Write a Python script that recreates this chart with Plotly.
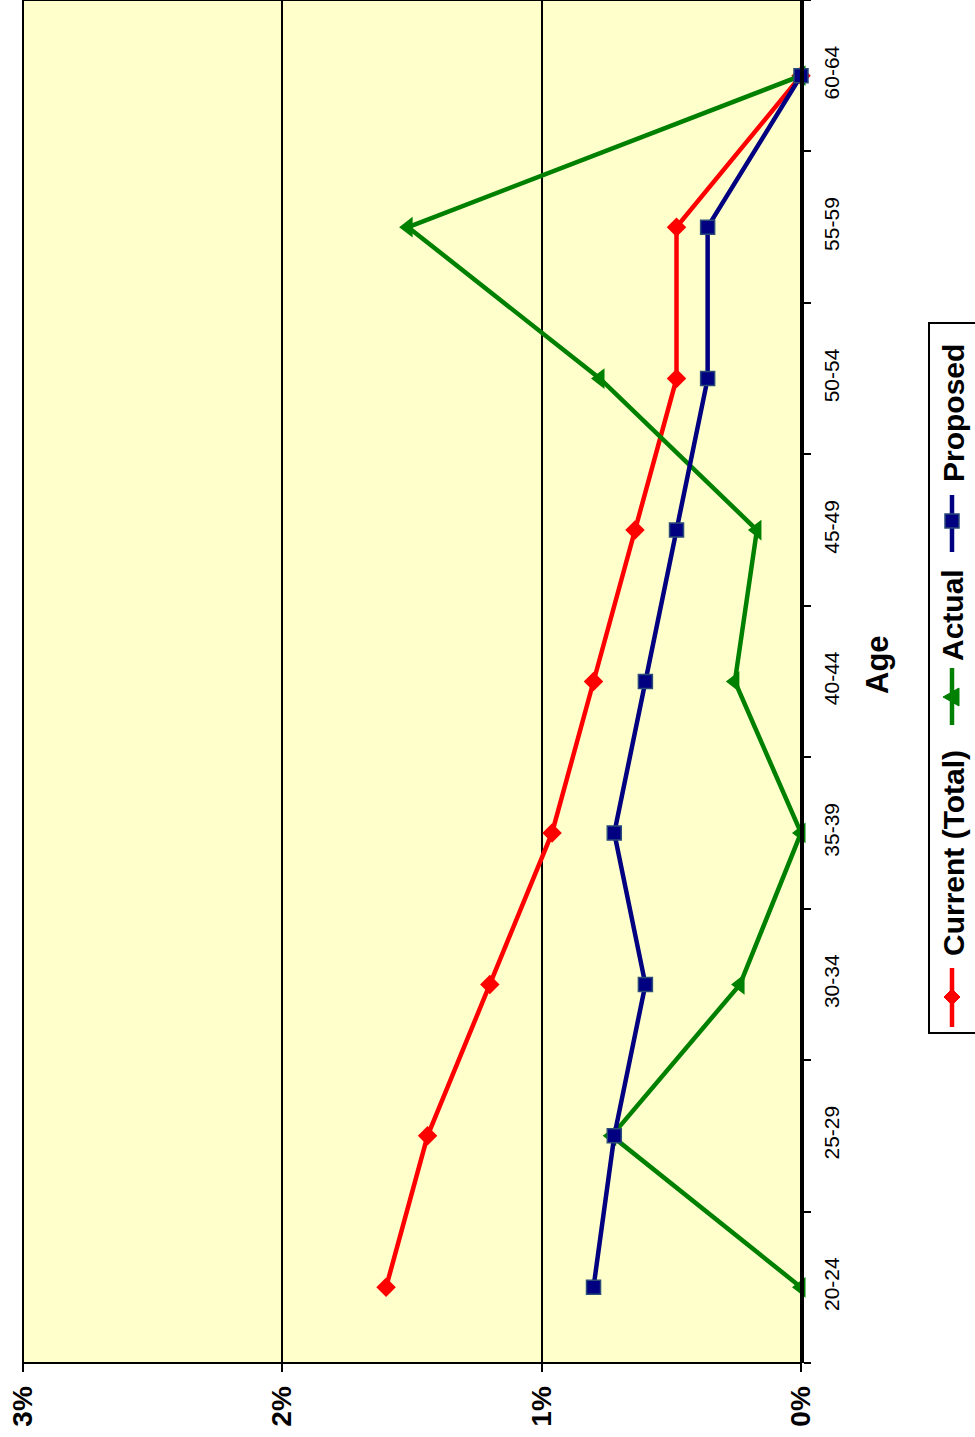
import plotly.graph_objects as go

# Age bands and rates (%) for each series
ages = ["20-24", "25-29", "30-34", "35-39", "40-44", "45-49", "50-54", "55-59", "60-64"]
current_total = [1.60, 1.44, 1.20, 0.96, 0.80, 0.64, 0.48, 0.48, 0.00]
actual = [0.00, 0.73, 0.235, 0.00, 0.255, 0.17, 0.775, 1.515, 0.00]
proposed = [0.80, 0.72, 0.60, 0.72, 0.60, 0.48, 0.36, 0.36, 0.00]
value_ticks = [0, 1, 2, 3]
value_labels = ["0%", "1%", "2%", "3%"]

W, H = 975, 1437
ML, MR, MT, MB = 23, 174, 0, 74
PW, PH = W - ML - MR, H - MT - MB
FONT = "Liberation Sans, Arial, sans-serif"


def px(x):
    return (x - ML) / PW


def py(y):
    return (H - MB - y) / PH


RED, GREEN, NAVY = "#FF0000", "#008000", "#000080"

fig = go.Figure()
fig.add_trace(go.Scatter(
    x=current_total, y=ages, mode="lines+markers", name="Current (Total)",
    line=dict(color=RED, width=4.5),
    marker=dict(symbol="diamond", size=15, color=RED),
    cliponaxis=False))
fig.add_trace(go.Scatter(
    x=actual, y=ages, mode="lines+markers", name="Actual",
    line=dict(color=GREEN, width=4.5),
    marker=dict(symbol="triangle-left", size=18, color=GREEN),
    cliponaxis=False))
fig.add_trace(go.Scatter(
    x=proposed, y=ages, mode="lines+markers", name="Proposed",
    line=dict(color=NAVY, width=4.5),
    marker=dict(symbol="square", size=14, color=NAVY,
                line=dict(color="#2A4A78", width=1.5)),
    cliponaxis=False))

shapes = []
# plot frame
shapes.append(dict(type="rect", xref="paper", yref="paper", x0=0, x1=1, y0=0, y1=1,
                   line=dict(color="black", width=2), layer="above"))
# legend box
shapes.append(dict(type="rect", xref="paper", yref="paper",
                   x0=px(929), x1=px(990), y0=py(1033), y1=py(323),
                   line=dict(color="black", width=2)))

legend_items = [
    ("Current (Total)", RED, (968, 1027), 997, 853, "diamond"),
    ("Actual", GREEN, (668, 725), 697, 615, "triangle"),
    ("Proposed", NAVY, (495, 552), 521, 413, "square"),
]
lx = 952
annotations = []
for label, color, (ya, yb), ym, yt, sym in legend_items:
    shapes.append(dict(type="line", xref="paper", yref="paper",
                       x0=px(lx), x1=px(lx), y0=py(ya), y1=py(yb),
                       line=dict(color=color, width=4.5)))
    if sym == "diamond":
        path = (f"M {px(lx)} {py(ym - 8)} L {px(lx + 8)} {py(ym)} "
                f"L {px(lx)} {py(ym + 8)} L {px(lx - 8)} {py(ym)} Z")
        shapes.append(dict(type="path", xref="paper", yref="paper", path=path,
                           fillcolor=color, line=dict(color=color, width=1)))
    elif sym == "triangle":
        path = (f"M {px(lx - 9)} {py(ym)} L {px(lx + 7)} {py(ym - 9)} "
                f"L {px(lx + 7)} {py(ym + 9)} Z")
        shapes.append(dict(type="path", xref="paper", yref="paper", path=path,
                           fillcolor=color, line=dict(color=color, width=1)))
    else:
        shapes.append(dict(type="rect", xref="paper", yref="paper",
                           x0=px(lx - 7), x1=px(lx + 7), y0=py(ym + 7), y1=py(ym - 7),
                           fillcolor=color, line=dict(color="#2A4A78", width=1.5)))
    annotations.append(dict(xref="paper", yref="paper", x=px(lx + 1), y=py(yt),
                            text=f"<b>{label}</b>", textangle=-90, showarrow=False,
                            font=dict(family=FONT, size=30, color="black"),
                            xanchor="center", yanchor="middle"))

annotations.append(dict(xref="paper", yref="paper", x=px(877), y=py(665),
                        text="<b>Age</b>", textangle=-90, showarrow=False,
                        font=dict(family=FONT, size=31, color="black"),
                        xanchor="center", yanchor="middle"))

fig.update_layout(
    width=W, height=H,
    margin=dict(l=ML, r=MR, t=MT, b=MB, pad=0),
    paper_bgcolor="white", plot_bgcolor="#FFFFCC",
    showlegend=False,
    font=dict(family=FONT, color="black"),
    shapes=shapes, annotations=annotations,
    xaxis=dict(
        range=[3, 0], tickvals=value_ticks, ticktext=value_labels,
        tickangle=-90, tickfont=dict(family=FONT, size=28, color="black", weight="bold"),
        ticks="outside", ticklen=8, tickwidth=2, tickcolor="black",
        ticklabelstandoff=3,
        showgrid=True, gridcolor="black", gridwidth=2,
        zeroline=False, showline=False,
    ),
    yaxis=dict(
        type="category", categoryorder="array", categoryarray=ages,
        range=[-0.5, 8.5], side="right",
        tickangle=-90, tickfont=dict(family=FONT, size=21, color="black"),
        ticks="outside", ticklen=7, tickwidth=2, tickcolor="black",
        tickson="boundaries", ticklabelstandoff=10,
        showgrid=False, zeroline=False,
        showline=True, linecolor="black", linewidth=3,
    ),
)

fig.write_html("out.html")
